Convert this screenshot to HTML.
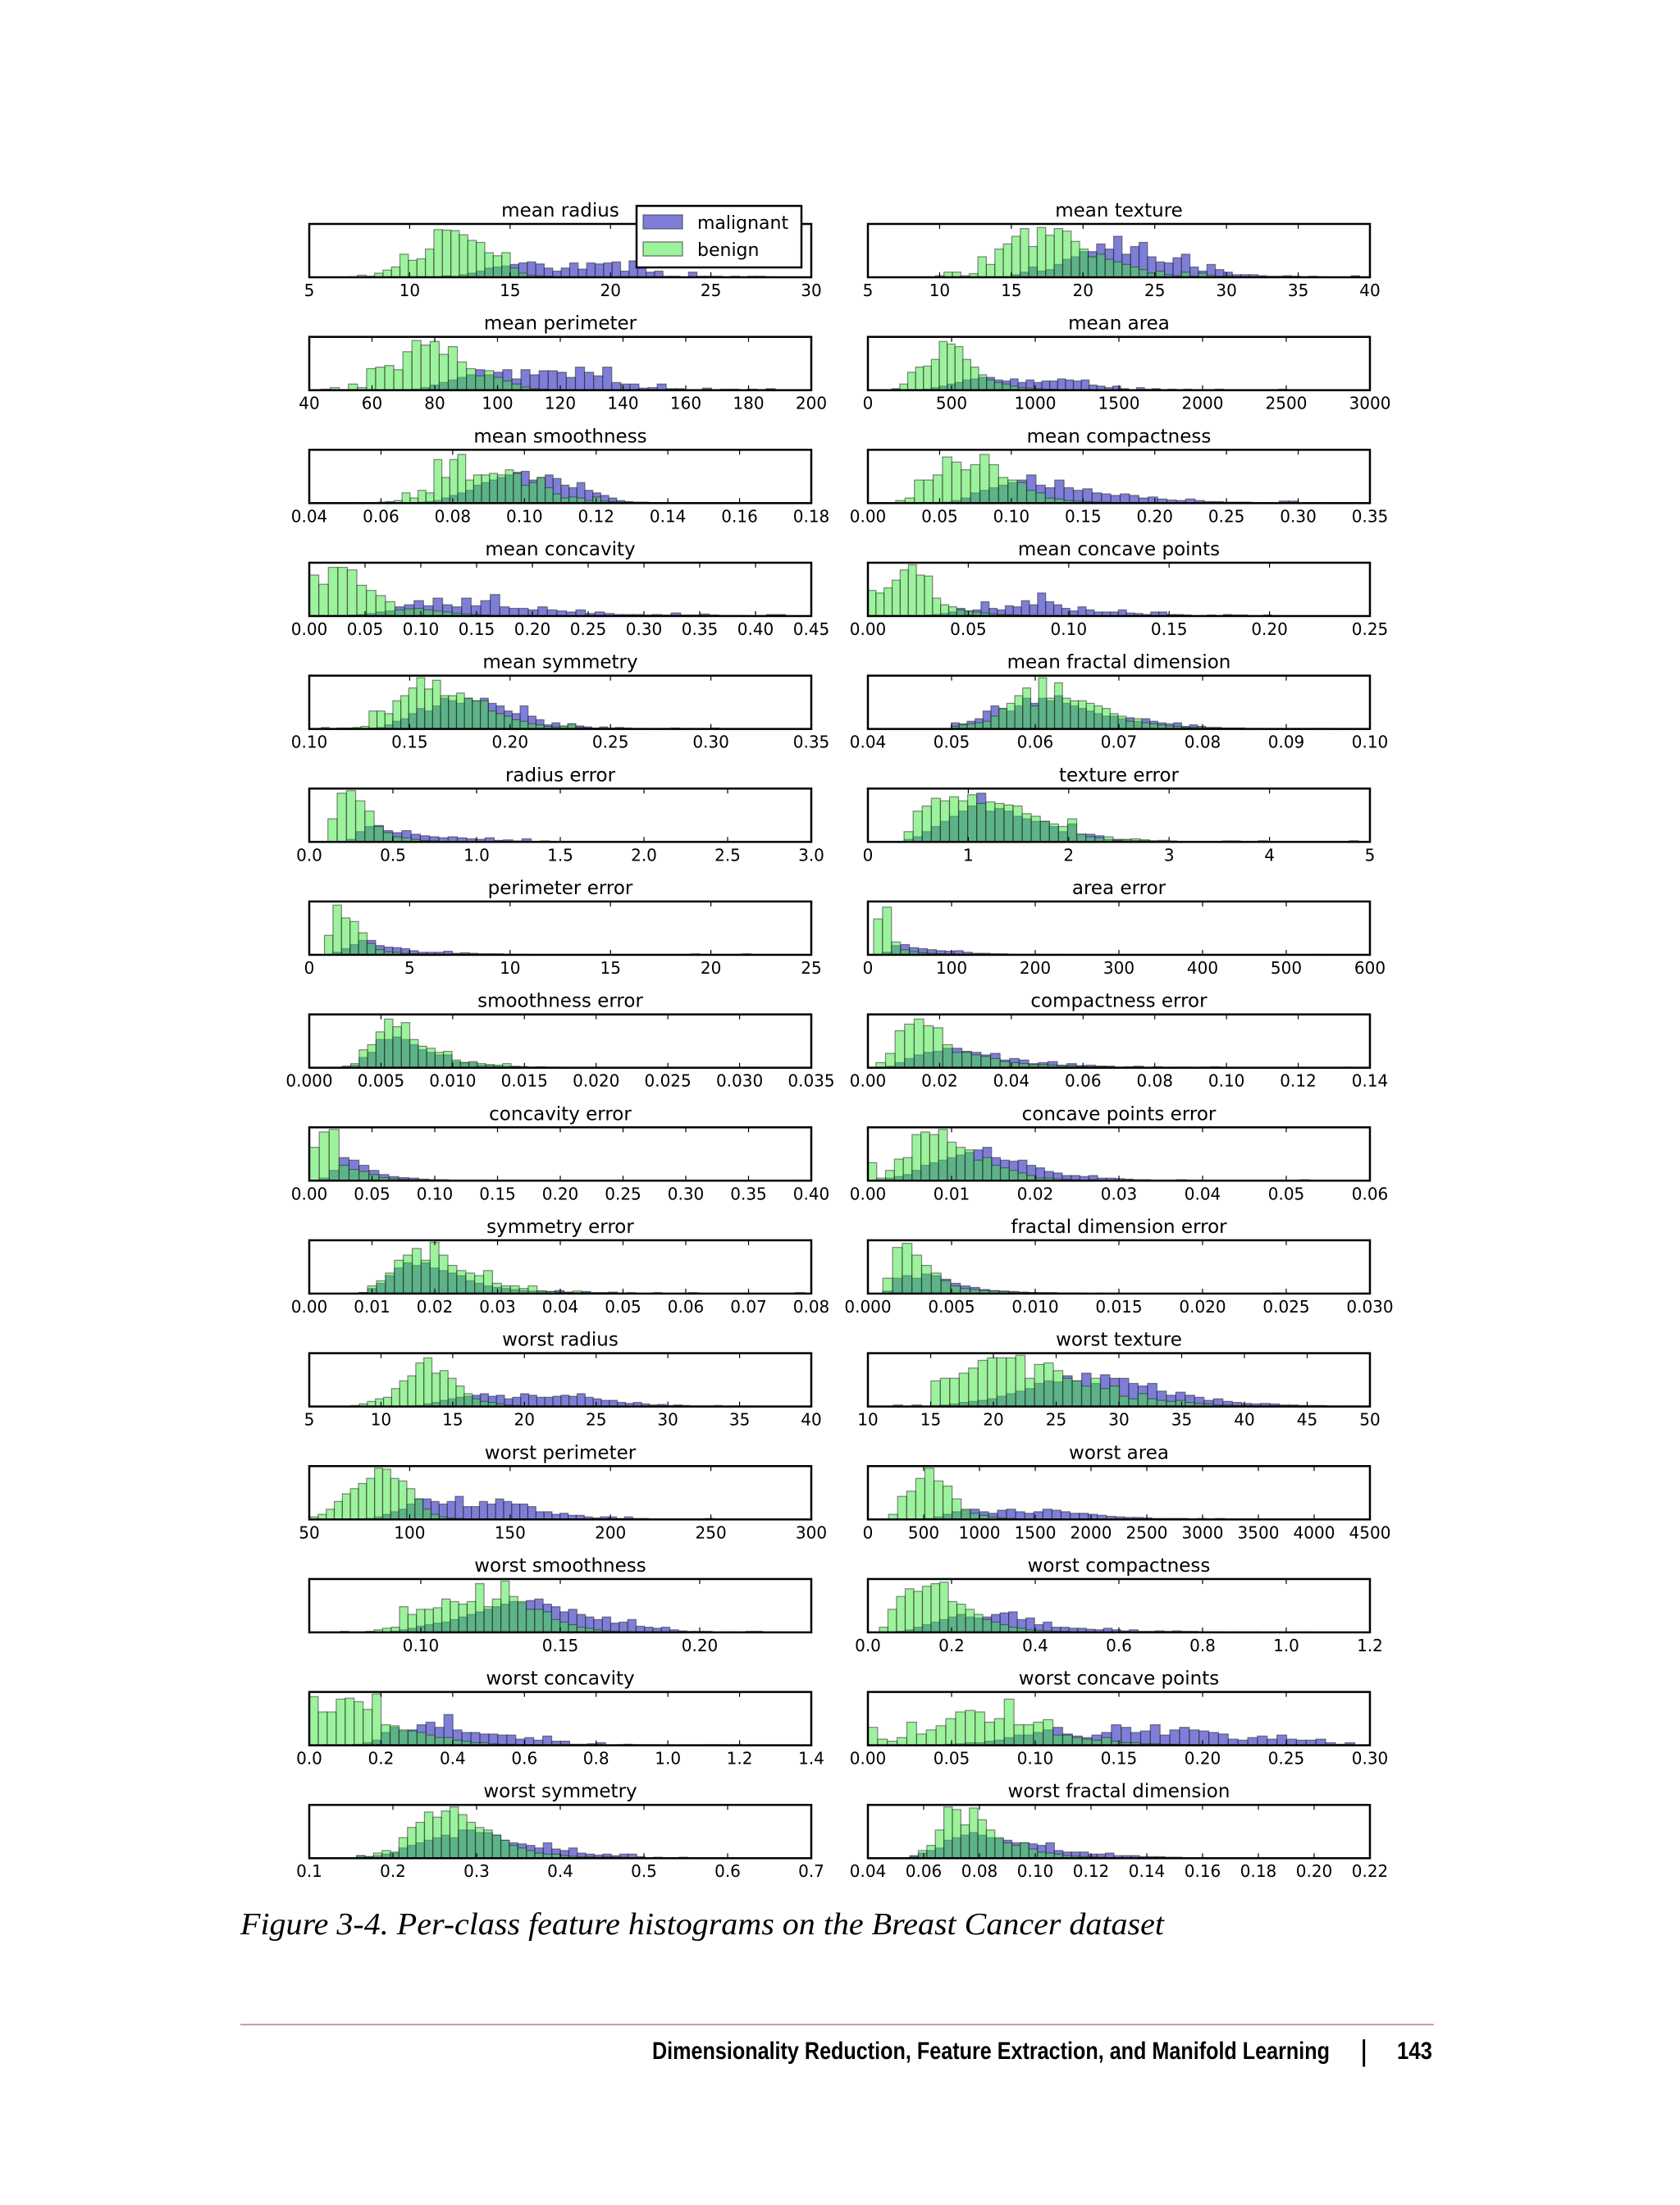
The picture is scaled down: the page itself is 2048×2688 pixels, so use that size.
<!DOCTYPE html>
<html>
<head>
<meta charset="utf-8">
<style>
html,body{margin:0;padding:0;background:#fff;}
svg{display:block;}
</style>
</head>
<body>
<svg id="fig" xmlns="http://www.w3.org/2000/svg" width="2048" height="2688" viewBox="0 0 2048 2688">
<rect x="0" y="0" width="2048" height="2688" fill="#fff"/>
<g id="panels"></g>
<g id="legend">
  <rect x="776" y="251" width="201" height="75" fill="#fff" stroke="#000" stroke-width="2.5"/>
  <rect x="784" y="262" width="48" height="17" fill="rgba(40,40,190,0.6)" stroke="rgba(60,60,60,0.6)" stroke-width="1.5"/>
  <text x="850" y="279" font-family="DejaVu Sans, sans-serif" font-size="22">malignant</text>
  <rect x="784" y="295" width="48" height="17" fill="rgba(60,230,60,0.5)" stroke="rgba(60,60,60,0.6)" stroke-width="1.5"/>
  <text x="850" y="312" font-family="DejaVu Sans, sans-serif" font-size="22">benign</text>
</g>
<text x="293" y="2358" font-family="Liberation Serif, serif" font-style="italic" font-size="38" textLength="1126" lengthAdjust="spacingAndGlyphs">Figure 3-4. Per-class feature histograms on the Breast Cancer dataset</text>
<line x1="293" y1="2468" x2="1748" y2="2468" stroke="#c9a0a0" stroke-width="2"/>
<text x="795" y="2510" font-family="Liberation Sans, sans-serif" font-weight="bold" font-size="30" textLength="826" lengthAdjust="spacingAndGlyphs">Dimensionality Reduction, Feature Extraction, and Manifold Learning</text>
<text x="1658" y="2512" font-family="Liberation Sans, sans-serif" font-size="36">|</text>
<text x="1703" y="2510" font-family="Liberation Sans, sans-serif" font-weight="bold" font-size="30" textLength="43" lengthAdjust="spacingAndGlyphs">143</text>
</svg>
<script>
const titles = ["mean radius","mean texture","mean perimeter","mean area","mean smoothness","mean compactness","mean concavity","mean concave points","mean symmetry","mean fractal dimension","radius error","texture error","perimeter error","area error","smoothness error","compactness error","concavity error","concave points error","symmetry error","fractal dimension error","worst radius","worst texture","worst perimeter","worst area","worst smoothness","worst compactness","worst concavity","worst concave points","worst symmetry","worst fractal dimension"];
const axisMin = [5,5,40,0,0.04,0,0,0,0.1,0.04,0,0,0,0,0,0,0,0,0,0,5,10,50,0,0.06,0,0,0,0.1,0.04];
const axisMax = [30,40,200,3000,0.18,0.35,0.45,0.25,0.35,0.10,3,5,25,600,0.035,0.14,0.4,0.06,0.08,0.03,40,50,300,4500,0.24,1.2,1.4,0.3,0.7,0.22];
const tickLabels = [
 ["5","10","15","20","25","30"],
 ["5","10","15","20","25","30","35","40"],
 ["40","60","80","100","120","140","160","180","200"],
 ["0","500","1000","1500","2000","2500","3000"],
 ["0.04","0.06","0.08","0.10","0.12","0.14","0.16","0.18"],
 ["0.00","0.05","0.10","0.15","0.20","0.25","0.30","0.35"],
 ["0.00","0.05","0.10","0.15","0.20","0.25","0.30","0.35","0.40","0.45"],
 ["0.00","0.05","0.10","0.15","0.20","0.25"],
 ["0.10","0.15","0.20","0.25","0.30","0.35"],
 ["0.04","0.05","0.06","0.07","0.08","0.09","0.10"],
 ["0.0","0.5","1.0","1.5","2.0","2.5","3.0"],
 ["0","1","2","3","4","5"],
 ["0","5","10","15","20","25"],
 ["0","100","200","300","400","500","600"],
 ["0.000","0.005","0.010","0.015","0.020","0.025","0.030","0.035"],
 ["0.00","0.02","0.04","0.06","0.08","0.10","0.12","0.14"],
 ["0.00","0.05","0.10","0.15","0.20","0.25","0.30","0.35","0.40"],
 ["0.00","0.01","0.02","0.03","0.04","0.05","0.06"],
 ["0.00","0.01","0.02","0.03","0.04","0.05","0.06","0.07","0.08"],
 ["0.000","0.005","0.010","0.015","0.020","0.025","0.030"],
 ["5","10","15","20","25","30","35","40"],
 ["10","15","20","25","30","35","40","45","50"],
 ["50","100","150","200","250","300"],
 ["0","500","1000","1500","2000","2500","3000","3500","4000","4500"],
 ["0.10","0.15","0.20"],
 ["0.0","0.2","0.4","0.6","0.8","1.0","1.2"],
 ["0.0","0.2","0.4","0.6","0.8","1.0","1.2","1.4"],
 ["0.00","0.05","0.10","0.15","0.20","0.25","0.30"],
 ["0.1","0.2","0.3","0.4","0.5","0.6","0.7"],
 ["0.04","0.06","0.08","0.10","0.12","0.14","0.16","0.18","0.20","0.22"]
];
const binStart = [6.98,9.71,43.79,143.5,0.0526,0.0194,0,0,0.106,0.04996,0.1115,0.3602,0.757,6.802,0.001713,0.002252,0,0,0.007882,0.000895,7.93,12.02,50.41,185.2,0.07117,0.02729,0,0,0.1565,0.05504];
const binEnd = [28.11,39.28,188.5,2501,0.1634,0.3454,0.4268,0.2012,0.304,0.09744,2.873,4.885,21.98,542.2,0.03113,0.1354,0.396,0.05279,0.07895,0.02984,36.04,49.54,251.2,4254,0.2226,1.058,1.252,0.291,0.6638,0.2075];
const malignant = [
 [0,0,0,0,0,0,0,0,0,0,1,3,2,5,8,12,18,20,22,25,28,30,26,18,12,18,28,16,28,26,28,30,12,32,18,10,12,2,2,0,10,2,2,2,0,2,0,2,2,1],
 [0,0,0,0,0,0,0,0,0,5,10,20,12,15,25,35,40,50,50,65,55,80,45,60,68,40,30,28,38,45,20,12,25,15,10,5,5,5,3,2,2,3,2,1,2,1,0,0,0,3],
 [0,0,0,0,0,0,0,0,0,0,2,5,10,15,20,25,30,40,30,35,40,22,40,30,38,38,35,25,45,35,28,45,15,12,12,4,5,12,3,3,0,0,4,0,2,2,0,2,0,3],
 [0,0,0,0,2,5,8,12,15,20,22,25,25,20,18,22,15,20,15,18,18,22,20,18,20,10,8,5,8,3,0,5,2,3,0,2,0,2,0,0,0,2,0,0,0,0,0,0,0,2],
 [0,0,0,0,0,0,0,0,2,3,5,10,15,20,25,35,40,45,50,55,60,62,45,50,55,48,35,30,40,25,20,15,10,5,3,2,2,1,1,0,0,0,0,0,0,0,0,0,0,0],
 [0,0,0,0,0,2,5,10,20,25,30,35,40,45,55,35,30,45,30,25,28,20,18,15,18,15,10,12,8,6,5,8,5,3,3,2,2,2,1,0,0,4,4,0,0,1,0,0,0,1],
 [0,0,0,0,2,3,5,8,10,18,22,30,20,35,22,18,35,20,30,42,18,15,15,12,18,12,10,8,12,5,8,5,3,3,3,2,3,2,6,2,2,4,2,1,1,1,0,0,3,3],
 [0,0,0,0,0,0,0,2,3,5,8,15,10,12,28,15,12,20,18,30,22,45,28,22,15,10,18,12,8,8,8,12,6,5,3,8,8,3,3,2,0,0,2,0,3,2,2,0,0,2],
 [0,0,0,0,0,0,2,3,8,15,20,30,40,35,45,60,55,50,60,55,60,50,45,35,30,45,25,18,8,12,5,10,6,4,2,4,2,3,2,1,1,0,0,1,2,0,1,0,0,2],
 [12,10,15,20,35,45,40,35,45,60,50,60,55,65,50,45,40,35,30,25,25,20,22,15,20,15,12,10,12,5,8,5,3,3,2,2,2,1,1,1,0,1,0,1,0,1,1,1,0,1],
 [0,0,5,20,30,32,22,18,22,15,12,10,8,10,8,6,5,8,3,4,2,6,0,2,1,1,0,0,1,0,0,0,0,0,0,0,0,0,0,0,0,0,0,0,0,1,0,0,0,1],
 [5,10,20,30,40,50,60,70,95,60,65,60,50,45,40,40,30,20,35,15,15,12,5,5,4,3,3,2,1,2,0,1,0,0,0,2,2,0,0,2,0,0,0,0,0,0,0,0,0,2],
 [0,5,12,20,28,28,18,15,14,12,8,5,5,5,7,3,4,3,2,2,2,1,1,1,0,0,0,0,0,0,0,0,0,0,0,0,0,0,0,0,0,0,0,2,0,0,0,0,0,2],
 [0,5,18,20,14,12,10,8,7,8,5,3,3,2,2,1,1,1,1,0,1,0,0,0,0,0,0,0,0,0,0,0,0,0,0,0,0,0,0,0,0,0,0,0,0,0,0,0,0,1],
 [0,2,5,20,30,55,55,60,55,45,35,30,25,25,12,10,10,5,5,3,3,2,2,1,1,1,0,0,0,0,0,0,0,0,0,0,0,0,0,0,0,0,0,0,0,0,0,0,0,1],
 [0,3,10,18,25,30,32,38,38,32,30,25,28,15,18,15,8,10,12,5,8,4,5,3,3,1,2,3,0,2,0,1,1,0,1,2,0,0,0,0,0,0,0,0,0,0,0,0,0,1],
 [0,5,20,45,40,30,20,12,8,6,5,3,2,2,1,1,1,1,0,0,1,0,0,0,0,0,0,0,0,0,0,0,0,0,0,0,0,0,0,0,0,0,0,0,0,0,0,0,0,1],
 [0,2,5,8,12,20,30,35,40,45,50,55,60,65,45,40,38,40,30,25,18,15,10,10,8,10,5,5,4,3,2,2,1,1,1,2,0,0,0,0,0,0,0,0,0,0,0,0,0,2],
 [2,10,20,35,50,60,55,60,50,45,40,35,25,20,15,12,10,8,6,5,5,4,6,3,2,4,2,2,3,0,2,0,0,2,0,0,0,2,0,0,0,0,0,0,0,0,0,0,0,2],
 [5,30,35,30,38,35,28,20,15,12,8,6,5,4,3,2,2,2,1,1,1,0,1,0,0,0,0,0,0,0,0,0,0,0,0,0,0,0,0,0,1,0,0,0,0,0,0,0,0,1],
 [0,0,0,0,0,0,0,0,2,5,8,12,15,18,20,22,25,20,22,15,18,25,22,18,18,20,22,20,25,18,15,12,12,8,6,8,5,3,4,2,3,2,1,1,1,2,0,1,0,1],
 [0,0,0,0,2,3,5,8,10,12,15,20,25,30,35,45,50,48,60,50,65,45,62,55,55,45,40,45,30,22,28,22,18,12,15,10,8,6,5,6,5,3,3,2,2,2,1,1,1,1],
 [0,0,0,0,0,0,0,2,5,10,15,20,30,40,40,35,30,35,45,25,25,35,30,40,35,30,30,25,15,15,10,12,8,8,5,3,5,5,2,5,2,2,0,0,0,0,0,0,0,2],
 [0,0,0,0,2,5,10,15,18,20,15,12,18,20,15,12,15,20,18,15,12,12,10,8,6,5,4,4,3,2,2,2,2,1,2,1,2,1,0,0,0,0,0,0,0,0,0,0,0,1],
 [0,0,0,0,0,0,2,5,8,12,15,18,20,25,30,35,40,45,50,55,60,58,62,65,55,50,40,45,35,30,25,30,18,20,25,12,10,8,10,5,3,2,2,2,0,1,1,0,2,2],
 [0,0,2,5,10,15,20,25,30,35,30,28,30,35,38,40,25,28,15,20,10,10,8,8,6,5,8,5,3,5,2,2,3,2,3,2,2,1,1,1,0,1,0,1,0,0,0,0,0,1],
 [0,0,0,0,0,2,5,10,25,35,28,30,40,45,35,60,30,25,25,22,22,20,20,12,15,10,18,8,8,2,2,3,5,0,1,2,1,1,1,0,0,0,0,0,1,1,0,1,0,0],
 [0,0,0,0,0,0,0,0,2,3,5,5,8,10,15,20,20,25,30,35,22,18,15,20,25,40,35,25,28,40,20,30,35,30,28,25,22,12,10,15,18,12,20,12,10,10,12,5,2,5],
 [5,3,5,8,10,20,25,30,35,40,45,40,55,55,50,50,45,35,30,28,25,20,30,18,15,20,10,8,6,8,5,8,8,3,1,2,1,1,2,1,1,0,0,0,0,0,0,0,0,1],
 [5,10,15,20,35,40,45,50,45,40,38,35,30,30,28,25,30,15,12,12,12,8,8,10,5,5,5,3,3,3,2,2,1,1,1,0,0,0,0,0,0,0,0,0,0,1,0,0,0,1]
];
const benign = [
 [1,4,2,8,14,20,45,33,36,55,93,92,91,83,72,68,48,42,48,18,8,4,3,2,1,1,0,1,0,0,0,0,0,0,0,0,0,0,0,0,0,0,0,0,0,0,0,0,0,0],
 [3,10,10,3,7,40,25,55,65,80,95,60,97,82,95,90,70,55,40,45,35,30,25,20,15,8,12,5,3,10,2,8,4,2,3,1,1,0,1,0,0,0,0,0,0,0,0,0,0,1],
 [2,5,1,12,5,42,45,48,40,75,97,88,95,70,85,55,42,28,38,25,18,12,6,3,2,1,0,0,0,0,0,0,0,0,0,0,0,0,0,0,0,0,0,0,0,0,0,0,0,0],
 [3,12,35,45,47,60,95,90,85,60,45,30,20,15,12,8,5,4,3,2,2,1,0,0,0,0,0,0,0,0,0,0,0,0,0,0,0,0,0,0,0,0,0,0,0,0,0,0,0,0],
 [1,0,0,2,3,5,20,10,25,20,85,50,85,95,45,55,55,58,55,65,58,35,40,50,30,18,10,12,10,5,12,4,3,2,2,1,1,1,0,0,0,0,0,0,0,0,0,0,0,1],
 [5,10,45,45,55,90,80,65,75,95,75,50,45,40,25,20,10,8,5,4,3,2,2,1,1,1,0,0,0,0,0,0,0,0,0,0,0,0,0,0,0,0,0,0,0,0,0,0,0,0],
 [80,62,95,95,90,60,50,40,28,12,14,15,12,10,8,5,4,3,2,1,1,1,1,1,0,0,0,0,0,0,0,0,0,0,0,0,0,0,0,0,0,0,0,0,0,0,0,0,0,0],
 [50,45,55,70,90,100,80,78,35,22,18,12,10,8,6,4,3,3,2,2,1,1,0,0,0,0,0,0,0,0,0,0,0,0,0,0,0,0,0,0,0,0,0,0,0,0,0,0,0,0],
 [3,0,2,2,3,5,35,35,30,55,65,80,100,78,95,65,65,70,60,55,55,35,30,25,18,15,10,8,5,4,6,10,3,2,1,1,0,1,0,0,0,0,0,0,0,0,0,0,0,1],
 [5,8,10,12,15,25,40,50,65,80,45,100,60,90,60,55,55,50,45,40,30,25,15,20,12,10,8,6,5,3,3,4,2,2,1,1,1,0,1,0,0,0,0,1,0,1,1,1,0,0],
 [45,95,100,80,60,30,18,10,8,5,3,2,1,1,0,0,0,0,0,0,0,0,0,0,0,0,0,0,0,0,0,0,0,0,0,0,0,0,0,0,0,0,0,0,0,0,0,0,0,0],
 [20,60,70,85,80,88,80,92,75,78,75,72,70,55,50,40,35,30,45,15,10,8,10,3,5,6,4,2,3,1,0,1,0,0,0,1,1,0,0,2,0,0,0,0,0,0,0,0,0,2],
 [38,97,72,65,43,22,10,6,5,3,2,1,1,1,0,0,0,0,0,0,0,0,0,0,0,0,0,0,0,0,0,0,0,0,0,0,0,0,0,0,0,0,0,0,0,0,0,0,0,0],
 [70,93,25,10,6,4,3,2,1,1,0,0,0,0,0,0,0,0,0,0,0,0,0,0,0,0,0,0,0,0,0,0,0,0,0,0,0,0,0,0,0,0,0,0,0,0,0,0,0,0],
 [1,3,8,35,45,70,95,80,88,55,42,38,30,32,15,10,12,8,6,5,8,3,2,1,2,1,1,0,0,0,0,0,0,0,0,0,0,0,0,0,0,0,0,0,0,0,0,0,0,0],
 [10,28,72,85,95,82,78,45,30,30,25,22,18,12,10,8,6,6,5,4,4,3,2,3,2,1,1,0,0,0,0,0,0,0,0,0,0,0,0,0,0,0,0,0,0,0,0,0,0,0],
 [65,95,100,30,22,18,12,6,4,3,2,1,1,1,0,0,0,0,0,0,0,0,0,0,0,0,0,0,0,0,0,0,0,0,0,0,0,0,0,0,0,0,0,0,0,0,0,0,0,0],
 [35,5,20,42,45,90,95,90,100,75,65,60,40,45,30,25,20,15,10,5,5,4,3,2,1,2,1,1,0,0,0,0,0,0,0,0,0,0,0,0,0,0,0,0,0,0,0,0,0,0],
 [2,15,25,40,65,75,88,65,100,75,55,45,40,35,45,20,15,15,10,15,5,4,3,2,5,2,1,1,0,1,0,0,0,0,0,0,0,0,0,0,0,0,0,0,0,0,0,0,0,0],
 [30,90,98,75,55,40,25,15,10,8,6,5,4,3,2,2,1,1,1,1,0,0,0,0,0,0,0,0,0,0,0,0,0,0,0,0,0,0,0,0,0,0,0,0,0,0,0,0,0,0],
 [2,5,10,15,18,35,50,60,85,95,65,70,55,40,25,15,10,8,5,3,2,1,1,0,0,0,0,0,0,0,0,0,0,0,0,0,0,0,0,0,0,0,0,0,0,0,0,0,0,0],
 [3,0,3,0,50,55,55,65,75,90,95,95,95,100,55,82,85,70,55,50,40,55,35,40,20,15,25,15,12,10,12,8,6,5,3,3,2,2,1,1,2,0,0,0,0,0,0,0,0,0],
 [5,10,20,35,50,60,70,80,100,98,80,75,60,40,20,10,5,3,2,1,0,0,0,0,0,0,0,0,0,0,0,0,0,0,0,0,0,0,0,0,0,0,0,0,0,0,0,0,0,0],
 [10,45,55,80,100,75,65,40,20,12,8,5,3,2,1,0,0,0,0,0,0,0,0,0,0,0,0,0,0,0,0,0,0,0,0,0,0,0,0,0,0,0,0,0,0,0,0,0,0,0],
 [2,0,0,2,5,8,10,50,35,45,45,48,65,60,55,60,95,50,65,100,70,60,45,45,40,25,20,15,10,8,5,3,2,1,1,0,0,0,0,0,0,0,0,0,0,0,0,0,0,0],
 [10,45,70,85,80,90,95,98,60,55,45,35,25,20,15,10,8,5,4,3,2,2,1,1,1,0,0,0,0,0,0,0,0,0,0,0,0,0,0,0,0,0,0,0,0,0,0,0,0,0],
 [95,65,65,90,92,85,70,100,40,38,30,28,25,20,15,15,10,8,5,5,3,2,2,1,1,1,0,0,0,0,0,0,0,0,0,0,0,0,0,0,0,0,0,0,0,0,0,0,0,0],
 [35,12,8,15,45,22,30,38,52,65,68,65,45,52,90,40,40,45,50,20,20,15,12,10,15,8,5,5,3,3,2,2,1,1,1,0,0,0,0,0,0,0,0,0,0,0,0,0,0,0],
 [5,3,10,15,12,40,60,70,90,80,92,100,85,70,60,55,45,35,25,20,15,10,8,8,5,4,3,3,2,3,2,2,1,1,1,0,0,0,0,0,0,0,0,0,0,0,0,0,0,0],
 [2,15,25,55,100,95,65,98,75,55,40,30,25,30,18,12,10,8,5,4,3,3,2,1,1,1,0,0,0,0,0,0,0,0,0,0,0,0,0,0,0,0,0,0,0,0,0,0,0,0]
];
const heightMax = 104;

(function(){
  const NS = "http://www.w3.org/2000/svg";
  const root = document.getElementById("panels");
  const colX = [377, 1058];
  const W = 612, H = 65, top0 = 273, pitch = 137.66;
  function mk(tag, attrs, parent){
    const e = document.createElementNS(NS, tag);
    for (const k in attrs) e.setAttribute(k, attrs[k]);
    parent.appendChild(e);
    return e;
  }
  function tickVal(s){ return parseFloat(s); }
  for (let i = 0; i < titles.length; i++) {
    const px = colX[i % 2];
    const py = top0 + pitch * Math.floor(i / 2);
    const g = mk("g", {}, root);
    
    
    const xs = v => px + (v - axisMin[i]) / (axisMax[i] - axisMin[i]) * W;
    const ys = v => py + H - Math.min(v, heightMax) / heightMax * H;
    const nb = 50;
    const bw = (binEnd[i] - binStart[i]) / nb;
    const series = [[malignant[i], "rgba(40,40,190,0.6)", "malignant"], [benign[i], "rgba(60,230,60,0.5)", "benign"]];
    for (const [vals, col, nm] of series) {
      const sg = mk("g", {}, g);
      
      
      for (let k = 0; k < vals.length; k++) {
        if (!vals[k]) continue;
        const x0 = xs(binStart[i] + k * bw), x1 = xs(binStart[i] + (k + 1) * bw);
        const y = ys(vals[k]);
        const r = mk("rect", {x: x0.toFixed(2), y: y.toFixed(2), width: (x1 - x0).toFixed(2), height: (py + H - y).toFixed(2), fill: col, stroke: "rgba(40,40,40,0.55)", "stroke-width": "1.2"}, sg);
        
        
      }
    }
    const frame = mk("rect", {x: px, y: py, width: W, height: H, fill: "none", stroke: "#000", "stroke-width": "2.5"}, g);
    
    
    const t = mk("text", {x: px + W / 2, y: py - 9, "text-anchor": "middle", "font-family": "DejaVu Sans, sans-serif", "font-size": "23"}, g);
    t.textContent = titles[i];
    
    
    for (const lab of tickLabels[i]) {
      const x = xs(tickVal(lab));
      mk("line", {x1: x, y1: py + H, x2: x, y2: py + H - 6, stroke: "#000", "stroke-width": "1.2"}, g);
      mk("line", {x1: x, y1: py, x2: x, y2: py + 6, stroke: "#000", "stroke-width": "1.2"}, g);
      const tl = mk("text", {x: x, y: py + H + 23, "text-anchor": "middle", "font-family": "DejaVu Sans, sans-serif", "font-size": "20"}, g);
      tl.textContent = lab;
      
      
    }
  }
})();
</script>
</body>
</html>
